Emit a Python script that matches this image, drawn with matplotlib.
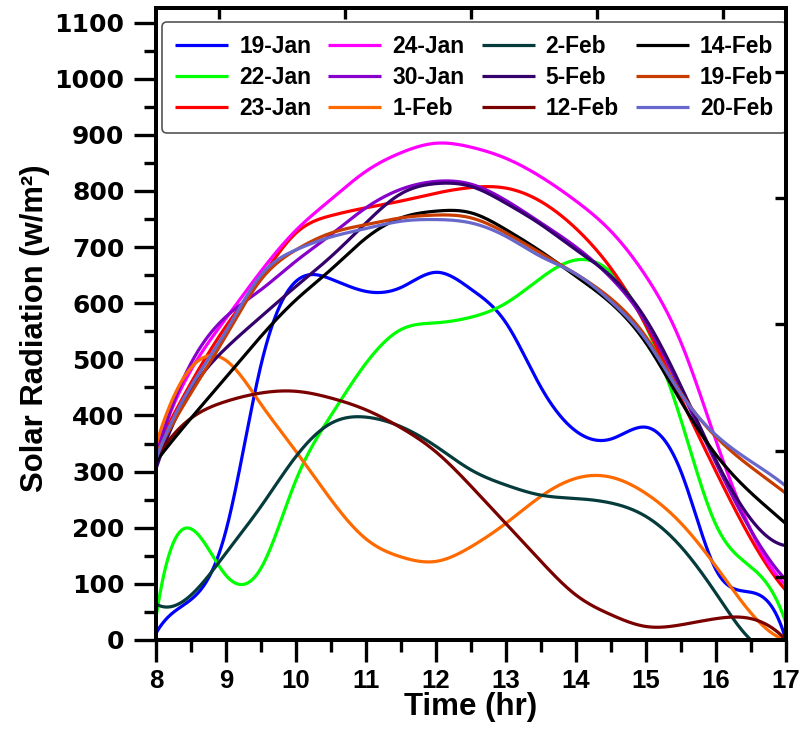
import numpy as np
import matplotlib
matplotlib.use("Agg")
import matplotlib.pyplot as plt
from matplotlib.ticker import MultipleLocator

plt.rcParams["font.family"] = ["Liberation Sans", "DejaVu Sans"]
plt.rcParams["font.weight"] = "bold"
plt.rcParams["axes.labelweight"] = "bold"

# Half-hourly solar radiation readings (W/m^2), 08:00 to 17:00
hours = [8.0, 8.5, 9.0, 9.5, 10.0, 10.5, 11.0, 11.5, 12.0, 12.5,
         13.0, 13.5, 14.0, 14.5, 15.0, 15.5, 16.0, 16.5, 17.0]

jan19 = [12, 72, 195, 490, 639, 643, 621, 628, 655, 625, 565, 450, 372, 358, 379, 300, 125, 85, 0]
jan22 = [40, 198, 115, 128, 285, 400, 493, 553, 565, 575, 600, 645, 677, 655, 559, 392, 205, 130, 30]
jan23 = [340, 458, 559, 645, 725, 756, 770, 782, 796, 806, 805, 781, 733, 662, 560, 430, 300, 180, 88]
jan24 = [335, 481, 573, 657, 730, 785, 835, 868, 885, 878, 858, 825, 782, 728, 648, 530, 355, 195, 98]
jan30 = [325, 493, 576, 624, 675, 722, 770, 803, 817, 812, 783, 743, 700, 645, 565, 445, 315, 195, 107]
feb01 = [348, 485, 498, 420, 336, 250, 180, 148, 140, 166, 208, 256, 288, 290, 261, 208, 131, 48, 0]
feb02 = [64, 80, 155, 238, 327, 386, 397, 380, 345, 303, 276, 258, 252, 244, 220, 166, 83, 0, 0]
feb05 = [305, 445, 520, 576, 630, 683, 743, 795, 813, 808, 778, 740, 695, 648, 571, 452, 320, 215, 168]
feb12 = [321, 395, 425, 440, 443, 431, 410, 378, 335, 274, 207, 140, 80, 45, 24, 27, 38, 38, 0]
feb14 = [318, 395, 468, 541, 606, 660, 716, 752, 764, 761, 731, 692, 648, 600, 529, 425, 330, 262, 207]
feb19 = [330, 440, 542, 642, 695, 725, 740, 752, 757, 752, 725, 689, 652, 608, 540, 440, 362, 308, 261]
feb20 = [322, 452, 550, 650, 695, 718, 733, 746, 749, 743, 719, 683, 652, 603, 535, 438, 365, 318, 274]

labels = ["19-Jan", "22-Jan", "23-Jan", "24-Jan", "30-Jan", "1-Feb",
          "2-Feb", "5-Feb", "12-Feb", "14-Feb", "19-Feb", "20-Feb"]
series = [jan19, jan22, jan23, jan24, jan30, feb01,
          feb02, feb05, feb12, feb14, feb19, feb20]
colors = ["#0000FF", "#00FF00", "#FF0000", "#FF00FF", "#8800CC", "#FF6A00",
          "#053B3B", "#34006B", "#7A0000", "#000000", "#C83C00", "#6868CC"]


def spline_curve(x, y, xs):
    """Cubic spline with not-a-knot end conditions, evaluated at xs."""
    x = np.asarray(x, float)
    y = np.asarray(y, float)
    n = len(x)
    h = np.diff(x)
    A = np.zeros((n, n))
    b = np.zeros(n)
    A[0, 0], A[0, 1], A[0, 2] = h[1], -(h[0] + h[1]), h[0]
    A[-1, -3], A[-1, -2], A[-1, -1] = h[-1], -(h[-2] + h[-1]), h[-2]
    for i in range(1, n - 1):
        A[i, i - 1] = h[i - 1]
        A[i, i] = 2 * (h[i - 1] + h[i])
        A[i, i + 1] = h[i]
        b[i] = 6 * ((y[i + 1] - y[i]) / h[i] - (y[i] - y[i - 1]) / h[i - 1])
    M = np.linalg.solve(A, b)
    idx = np.clip(np.searchsorted(x, xs) - 1, 0, n - 2)
    x0, x1 = x[idx], x[idx + 1]
    hh = x1 - x0
    t0, t1 = x1 - xs, xs - x0
    return (M[idx] * t0 ** 3 / (6 * hh) + M[idx + 1] * t1 ** 3 / (6 * hh)
            + (y[idx] / hh - M[idx] * hh / 6) * t0
            + (y[idx + 1] / hh - M[idx + 1] * hh / 6) * t1)


fig = plt.figure(figsize=(8, 7.39), dpi=100)
ax = fig.add_axes([0.195, 0.134, 0.7875, 0.8545])

xs = np.linspace(hours[0], hours[-1], 900)
for lab, vals, col in zip(labels, series, colors):
    ys = np.clip(spline_curve(hours, vals, xs), 0, None)
    ax.plot(xs, ys, color=col, lw=2.3, label=lab, zorder=3, solid_capstyle="butt")

ax.set_xlim(8, 17)
ax.set_ylim(0, 1125)
ax.xaxis.set_major_locator(MultipleLocator(1))
ax.xaxis.set_minor_locator(MultipleLocator(0.5))
ax.set_yticks(np.arange(0, 1101, 100))
ax.yaxis.set_minor_locator(MultipleLocator(50))

for sp in ax.spines.values():
    sp.set_linewidth(2.8)
ax.tick_params(which="major", direction="out", length=15.6, width=2.4,
               top=False, right=False)
ax.tick_params(which="minor", direction="out", length=8.6, width=2.4,
               top=False, right=False)
ax.tick_params(axis="x", which="major", pad=5, labelsize=18.5)
ax.tick_params(axis="y", which="major", pad=7, labelsize=18)
for lbl in ax.get_yticklabels():
    lbl.set_fontfamily("DejaVu Sans")

ax.set_xlabel("Time (hr)", fontsize=22.5)
ax.set_ylabel("Solar Radiation (w/m²)", fontsize=22.3)
ax.xaxis.set_label_coords(0.5, -0.083)
ax.yaxis.set_label_coords(-0.168, 0.494)

# Inward ticks along the top and right frame
ax_top = ax.twiny()
ax_top.set_xlim(0, 1)
ax_top.set_xticks([0.1, 0.3, 0.5, 0.7, 0.9])
ax_top.tick_params(axis="x", direction="in", length=8, width=2.4,
                   labeltop=False, top=True, bottom=False)
ax_right = ax.twinx()
ax_right.set_ylim(0, 1)
ax_right.set_yticks([0.1, 0.3, 0.5, 0.7, 0.9])
ax_right.tick_params(axis="y", direction="in", length=8, width=2.4,
                     labelright=False, right=True, left=False)
for a in (ax_top, ax_right):
    for sp in a.spines.values():
        sp.set_linewidth(2.8)

leg = ax.legend(loc="upper left", bbox_to_anchor=(0.0095, 0.9786),
                borderaxespad=0, ncol=4, fontsize=16.4, frameon=True,
                fancybox=True, handlelength=2.33, handletextpad=0.48,
                columnspacing=0.75, labelspacing=0.34, borderpad=0.58)
frame = leg.get_frame()
frame.set_edgecolor("#555555")
frame.set_linewidth(1.2)
frame.set_alpha(1)

fig.savefig("out.png", dpi=100)
